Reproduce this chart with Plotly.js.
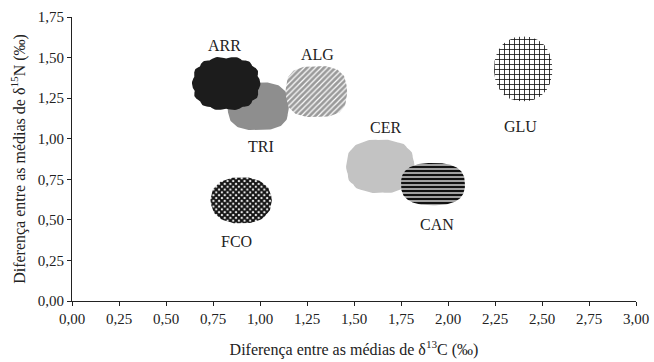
<!DOCTYPE html>
<html><head><meta charset="utf-8">
<script src="https://cdn.plot.ly/plotly-3.0.1.min.js"></script>
<style>body{margin:0;background:#fff}</style></head>
<body><div id="chart" style="width:654px;height:362px"></div>
<script>
// Data (group means differences)
const groups = ['TRI', 'ARR', 'ALG', 'CER', 'CAN', 'GLU', 'FCO'];
const deltaC = [0.99, 0.82, 1.30, 1.64, 1.92, 2.40, 0.90];
const deltaN = [1.20, 1.34, 1.29, 0.83, 0.72, 1.43, 0.62];
const xTickVals = [0, 0.25, 0.5, 0.75, 1, 1.25, 1.5, 1.75, 2, 2.25, 2.5, 2.75, 3];
const yTickVals = [0, 0.25, 0.5, 0.75, 1, 1.25, 1.5, 1.75];

// Styles (appearance only)
const styles = {
  ARR: {fill: '#1c1c1c', rx: 0.17, ry: 0.155, ys: 38, xs: -2, bump: 0.07, p: 2.4},
  TRI: {fill: '#8e8e8e', rx: 0.16, ry: 0.145, ys: -40, xs: 3, bump: 0.02, p: 2.8},
  ALG: {pat: {shape: '/', bgcolor: '#9a9a9a', fgcolor: '#ffffff', size: 4, solidity: 0.3}, rx: 0.16, ry: 0.155, ys: 37, xs: 1, bump: 0.02, p: 2.8},
  CER: {fill: '#c3c3c3', rx: 0.175, ry: 0.16, ys: 39, xs: 5, bump: 0.04, p: 2.5},
  CAN: {pat: {shape: '-', bgcolor: '#ffffff', fgcolor: '#111111', size: 4, solidity: 0.7}, rx: 0.17, ry: 0.13, ys: -40, xs: 4, bump: 0.0, p: 2.6},
  GLU: {pat: {shape: '+', bgcolor: '#ffffff', fgcolor: '#111111', size: 5, solidity: 0.3}, rx: 0.155, ry: 0.2, ys: -58, xs: -3, bump: 0.0, p: 2.2},
  FCO: {pat: {shape: 'x', bgcolor: '#ffffff', fgcolor: '#111111', size: 4, solidity: 0.75}, rx: 0.16, ry: 0.14, ys: -41, xs: -5, bump: 0.02, p: 2.3}
};

function blob(xc, yc, s) {
  const xs = [], ys = [];
  const n = 160;
  const e = 2 / s.p;
  for (let i = 0; i <= n; i++) {
    const t = 2 * Math.PI * i / n;
    const c = Math.cos(t), sn = Math.sin(t);
    const r = 1 + s.bump * Math.abs(Math.cos(7 * t));
    xs.push(xc + s.rx * r * Math.sign(c) * Math.pow(Math.abs(c), e));
    ys.push(yc + s.ry * r * Math.sign(sn) * Math.pow(Math.abs(sn), e));
  }
  return {xs, ys};
}

const traces = groups.map((g, i) => {
  const s = styles[g];
  const b = blob(deltaC[i], deltaN[i], s);
  const tr = {
    type: 'scatter', mode: 'lines', x: b.xs, y: b.ys,
    fill: 'toself', line: {width: 0, color: 'rgba(0,0,0,0)'},
    hoverinfo: 'skip', showlegend: false, name: g
  };
  if (s.pat) { tr.fillpattern = Object.assign({fillmode: 'replace'}, s.pat); tr.fillcolor = s.pat.bgcolor; }
  else tr.fillcolor = s.fill;
  return tr;
});

const SERIF = 'Liberation Serif';
const annotations = groups.map((g, i) => ({
  x: deltaC[i], y: deltaN[i], xref: 'x', yref: 'y', text: g, showarrow: false,
  yshift: styles[g].ys, xshift: styles[g].xs,
  font: {family: SERIF, size: 16, color: '#222'}
}));

const layout = {
  width: 654, height: 362,
  margin: {l: 72, r: 18, t: 17, b: 61},
  paper_bgcolor: '#fff', plot_bgcolor: '#fff',
  separators: ',.',
  showlegend: false,
  font: {family: SERIF, size: 15, color: '#222'},
  xaxis: {
    range: [0, 3], tickvals: xTickVals, tickformat: '.2f', showgrid: false, zeroline: false,
    showline: true, linecolor: '#222', linewidth: 1, ticks: 'outside', ticklen: 4, tickcolor: '#222',
    tickfont: {family: SERIF, size: 15, color: '#222'},
    title: {text: 'Diferença entre as médias de δ<sup>13</sup>C (‰)', font: {family: SERIF, size: 16, color: '#222'}, standoff: 17}
  },
  yaxis: {
    range: [0, 1.75], tickvals: yTickVals, tickformat: '.2f', showgrid: false, zeroline: false,
    showline: true, linecolor: '#222', linewidth: 1, ticks: 'outside', ticklen: 4, tickcolor: '#222',
    tickfont: {family: SERIF, size: 15, color: '#222'},
    title: {text: 'Diferença entre as médias de δ<sup>15</sup>N (‰)', font: {family: SERIF, size: 16, color: '#222'}, standoff: 8}
  },
  annotations: annotations
};

Plotly.newPlot('chart', traces, layout, {staticPlot: true, displayModeBar: false});
</script></body></html>
